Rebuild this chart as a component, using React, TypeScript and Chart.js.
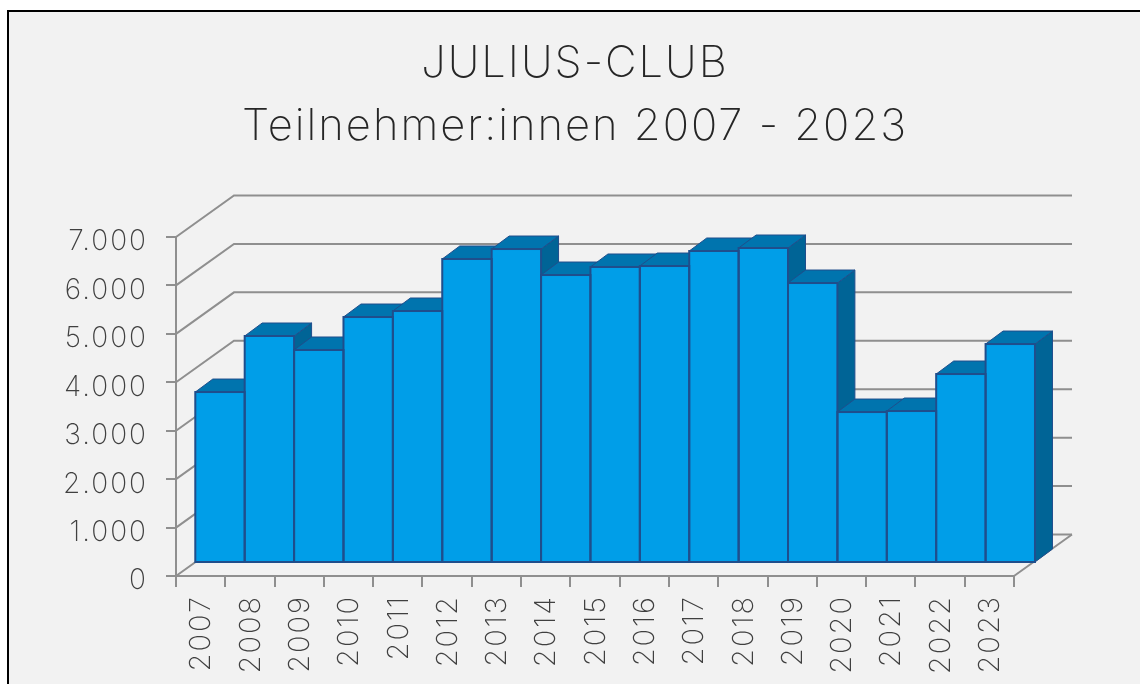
import React, { useEffect, useRef } from "react";
import { Chart, registerables } from "chart.js";

Chart.register(...registerables);

const categories = ["2007","2008","2009","2010","2011","2012","2013","2014","2015","2016","2017","2018","2019","2020","2021","2022","2023"];
const participants = [3530,4687,4398,5079,5203,6277,6483,5946,6112,6132,6442,6504,5781,3117,3138,3902,4521];
const titleLines = ["JULIUS-CLUB","Teilnehmer:innen 2007 - 2023"];

const FONT = "Inter";
const GRID = "#8f8f8f";
const FRONT = "#009ee8";
const TOP = "#0074ae";
const SIDE = "#006496";
const EDGE = "#1f4e8c";
// projected depth of the wall, of the bar's front face, and of the bar itself
const WALL = [58, 41.5];
const FACE = [19.3, 13];
const BAR = [17.5, 13];
const STRETCH = 1.002;

const depth3d = {
  id: "depth3d",
  beforeLayout(chart: any) {
    chart.ctx.letterSpacing = "2px";
  },
  beforeDraw(chart: any) {
    chart.ctx.letterSpacing = "2px";
  },
  beforeDatasetsDraw(chart: any) {
    const { ctx, scales } = chart;
    const y = scales.y;
    const area = chart.chartArea;
    ctx.save();
    ctx.strokeStyle = GRID;
    ctx.lineWidth = 2;
    y.ticks.forEach((t: any) => {
      const py = y.getPixelForValue(t.value);
      ctx.beginPath();
      ctx.moveTo(area.left, py);
      ctx.lineTo(area.left + WALL[0], py - WALL[1]);
      ctx.lineTo(area.right + WALL[0], py - WALL[1]);
      ctx.stroke();
    });
    const py0 = y.getPixelForValue(0);
    ctx.beginPath();
    ctx.moveTo(area.right, py0);
    ctx.lineTo(area.right + WALL[0], py0 - WALL[1]);
    ctx.stroke();

    const toX = (px: number) => area.left + (px - area.left) * STRETCH + FACE[0];
    const bars = chart.getDatasetMeta(0).data;
    ctx.strokeStyle = EDGE;
    ctx.lineWidth = 1;
    bars.forEach((el: any) => {
      const p = el.getProps(["x", "y", "base", "width"], true);
      const l = toX(p.x - p.width / 2), r = toX(p.x + p.width / 2);
      const t = p.y - FACE[1], b = p.base - FACE[1];
      ctx.fillStyle = SIDE;
      ctx.beginPath();
      ctx.moveTo(r, t); ctx.lineTo(r + BAR[0], t - BAR[1]);
      ctx.lineTo(r + BAR[0], b - BAR[1]); ctx.lineTo(r, b);
      ctx.closePath(); ctx.fill(); ctx.stroke();
      ctx.fillStyle = TOP;
      ctx.beginPath();
      ctx.moveTo(l, t); ctx.lineTo(l + BAR[0], t - BAR[1]);
      ctx.lineTo(r + BAR[0], t - BAR[1]); ctx.lineTo(r, t);
      ctx.closePath(); ctx.fill(); ctx.stroke();
    });
    ctx.restore();
    ctx.save();
    ctx.translate(area.left * (1 - STRETCH) + FACE[0], -FACE[1]);
    ctx.scale(STRETCH, 1);
  },
  afterDatasetsDraw(chart: any) {
    const { ctx } = chart;
    ctx.strokeStyle = EDGE;
    ctx.lineWidth = 2;
    chart.getDatasetMeta(0).data.forEach((el: any) => {
      const p = el.getProps(["x", "y", "base", "width"], true);
      ctx.strokeRect(p.x - p.width / 2, p.y, p.width, p.base - p.y);
    });
    ctx.restore();
  },
};

export default function App() {
  const ref = useRef<HTMLCanvasElement>(null);
  useEffect(() => {
    const chart = new Chart(ref.current as HTMLCanvasElement, {
      type: "bar",
      data: {
        labels: categories,
        datasets: [{
          label: "Teilnehmer:innen",
          data: participants,
          backgroundColor: FRONT,
          borderWidth: 0,
          categoryPercentage: 1,
          barPercentage: 1,
          clip: false,
        }],
      },
      plugins: [depth3d],
      options: {
        responsive: false,
        animation: false,
        layout: { padding: { left: 10, right: 0, top: 0, bottom: 0 } },
        plugins: {
          legend: { display: false },
          tooltip: { enabled: false },
          title: {
            display: true,
            text: titleLines,
            color: "#262626",
            font: { family: FONT, size: 43.5, weight: "200", lineHeight: 1.44 },
            padding: { top: 33, bottom: 78.7 },
          },
        },
        scales: {
          x: {
            ticks: { color: "#404040", font: { family: FONT, size: 29, weight: "200" }, minRotation: 90, maxRotation: 90, autoSkip: false, padding: 8, labelOffset: 1 },
            grid: { drawOnChartArea: false, color: GRID, lineWidth: 2, tickLength: 11 },
            border: { color: GRID, width: 2 },
            afterFit(s: any) { s.height = 108; },
          },
          y: {
            min: 0,
            max: 7000,
            ticks: {
              stepSize: 1000,
              color: "#404040",
              font: { family: FONT, size: 28, weight: "200" },
              padding: 18,
              labelOffset: 5,
              callback: (v: any) => Number(v).toLocaleString("de-DE"),
            },
            grid: { drawOnChartArea: false, color: GRID, lineWidth: 2, tickLength: 10 },
            border: { color: GRID, width: 2 },
            afterFit(s: any) { s.width = 166; },
          },
          spacer: {
            type: "linear",
            position: "right",
            display: true,
            ticks: { display: false },
            grid: { display: false },
            border: { display: false },
            afterFit(s: any) { s.width = 126; },
          },
        },
      } as any,
    });
    return () => chart.destroy();
  }, []);
  return (
    <div style={{ position: "fixed", left: 0, top: 0, width: 1140, height: 684, overflow: "hidden", background: "#fff" }}>
      <div style={{ position: "absolute", left: 7, top: 10, width: 1200, height: 800, border: "2px solid #000", background: "#f2f2f2" }} />
      <canvas ref={ref} width={1140} height={684} style={{ position: "absolute", left: 0, top: 0 }} />
    </div>
  );
}
